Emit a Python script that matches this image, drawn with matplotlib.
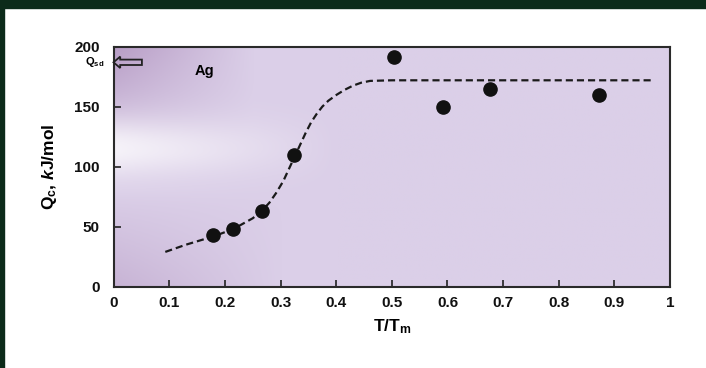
import matplotlib
matplotlib.use('Agg')
import matplotlib.pyplot as plt
import numpy as np
from matplotlib.patches import FancyArrow, Rectangle

plt.rcParams['font.family'] = ['Liberation Sans', 'DejaVu Sans']
plt.rcParams['mathtext.fontset'] = 'custom'
plt.rcParams['mathtext.rm'] = 'Liberation Sans:bold'
plt.rcParams['mathtext.it'] = 'Liberation Sans:italic:bold'

# measured points (T/Tm, Qc in kJ/mol)
t_pts = [0.179, 0.215, 0.266, 0.325, 0.504, 0.592, 0.676, 0.873]
q_pts = [43, 48, 63, 110, 191, 150, 165, 160]

# dashed fit curve
t_fit = [0.093, 0.13, 0.18, 0.215, 0.25, 0.266, 0.28, 0.292, 0.305, 0.315, 0.325,
         0.335, 0.345, 0.355, 0.365, 0.375, 0.386, 0.401, 0.415, 0.43, 0.445,
         0.461, 0.50, 0.967]
q_fit = [29, 35, 42, 48, 57, 63, 70, 78, 88, 98, 108,
         118, 128, 137, 144, 150, 155, 160, 164, 167.5, 170,
         171.5, 172, 172]

q_sd = 187
xticks = [0, 0.1, 0.2, 0.3, 0.4, 0.5, 0.6, 0.7, 0.8, 0.9, 1]
xticklabels = ['0', '0.1', '0.2', '0.3', '0.4', '0.5', '0.6', '0.7', '0.8', '0.9', '1']
yticks = [0, 50, 100, 150, 200]

fig = plt.figure(figsize=(7.06, 3.68), dpi=100)
fig.patch.set_facecolor('white')

# dark green frame of the slide
fig.patches.append(Rectangle((0, 1 - 8/368.), 1, 8/368., transform=fig.transFigure,
                             color='#0c2b1a', zorder=0))
fig.patches.append(Rectangle((0, 0), 4/706., 1, transform=fig.transFigure,
                             color='#0c2b1a', zorder=0))

ax = fig.add_axes([0.1608, 0.2209, 0.7884, 0.6522])

# lilac scanned-looking background
ny, nx = 120, 300
gx = np.linspace(0, 1, nx)[None, :]
gy = np.linspace(0, 1, ny)[:, None]          # 0 = top
base = np.array([219, 207, 232]) / 255.
dark = np.array([180, 152, 194]) / 255.
img = np.ones((ny, nx, 3)) * base
wdark = np.clip(1 - gx / 0.25, 0, 1) * np.clip(1 - gy / 0.45, 0, 1) * 0.9
wdark2 = np.clip(1 - gx / 0.3, 0, 1) * np.clip((gy - 0.6) / 0.4, 0, 1) * 0.5
w = wdark + wdark2
img = img * (1 - w[..., None]) + dark * w[..., None]
wwhite = np.exp(-((gy - 0.42) / 0.12) ** 2) * np.clip(1 - gx / 0.4, 0, 1) * 0.75
img = img * (1 - wwhite[..., None]) + 1.0 * wwhite[..., None]
ax.imshow(img, extent=[0, 1, 0, 200], aspect='auto', zorder=0, origin='upper')

ax.plot(t_fit, q_fit, color='#1a1a1a', lw=1.6, ls=(0, (3.2, 1.8)), zorder=2)
ax.plot(t_pts, q_pts, 'o', color='#111111', ms=9.5, zorder=3)

ax.set_xlim(0, 1)
ax.set_ylim(0, 200)
ax.set_xticks(xticks)
ax.set_xticklabels(xticklabels)
ax.set_yticks(yticks)

for lab in ax.get_xticklabels() + ax.get_yticklabels():
    lab.set_fontweight('bold')
    lab.set_fontsize(11)
    lab.set_color('#111111')
ax.tick_params(axis='x', direction='in', length=5, width=1.2, pad=7, colors='#222222',
               labelcolor='#111111')
ax.tick_params(axis='y', direction='in', length=5, width=1.2, pad=10, colors='#222222',
               labelcolor='#111111')
for s in ax.spines.values():
    s.set_linewidth(1.5)
    s.set_color('#2a2a2a')

ax.set_xlabel(r'T/T$_\mathregular{m}$', fontsize=12.5, fontweight='bold', labelpad=5)
ax.set_ylabel(r'Q$_\mathregular{c}$, $\mathit{k}$J/mol', fontsize=12.5, fontweight='bold',
              labelpad=11)

ax.text(0.146, 180, 'Ag', fontsize=10.5, fontweight='bold', va='center', ha='left')

# Qsd marker arrow
ax.add_patch(FancyArrow(0.051, q_sd, -0.051, 0, width=4.5, head_width=9.5,
                        head_length=0.012, length_includes_head=True,
                        facecolor='none', edgecolor='#222222', lw=1.3,
                        clip_on=False, zorder=4))
ax.text(-0.017, q_sd, r'Q$_\mathregular{sd}$', fontsize=8, fontweight='bold',
        ha='right', va='center', clip_on=False)

fig.savefig('out.png', dpi=100, facecolor=fig.get_facecolor())
